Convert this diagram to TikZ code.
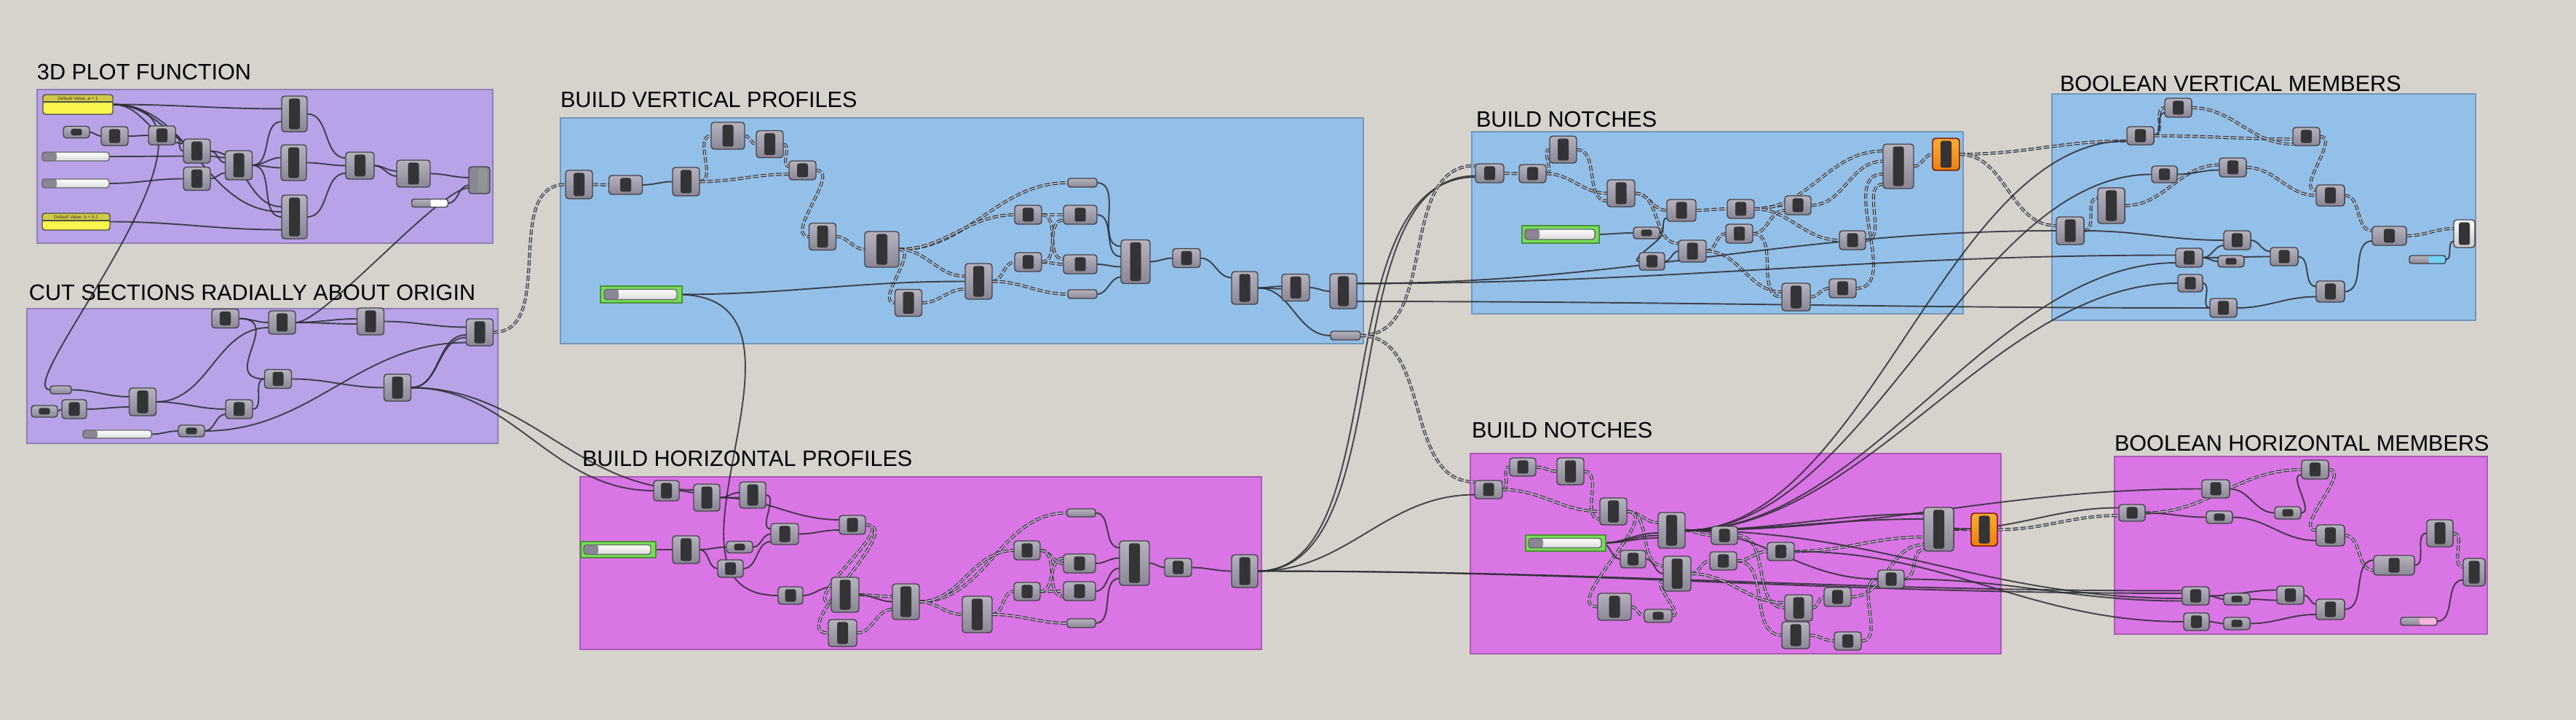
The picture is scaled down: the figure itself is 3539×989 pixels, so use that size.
\documentclass[tikz,border=0pt]{standalone}
\usepackage{fontspec}
\setmainfont{Liberation Sans}
\usepackage{tikz}
\usetikzlibrary{positioning}
\pgfdeclarelayer{groups}
\pgfdeclarelayer{wires}
\pgfsetlayers{groups,wires,main}
\definecolor{ghcanvas}{RGB}{214,210,204}
\definecolor{ghpurple}{RGB}{184,163,232}
\definecolor{ghblue}{RGB}{147,192,233}
\definecolor{ghpink}{RGB}{218,117,230}
\definecolor{ghtop}{RGB}{182,178,190}
\definecolor{ghbot}{RGB}{138,134,148}
\definecolor{ghedge}{RGB}{68,66,72}
\definecolor{ghbar}{RGB}{52,52,54}
\definecolor{ghwire}{RGB}{45,45,50}
\definecolor{ghtree}{RGB}{180,184,194}
\definecolor{ghgreen}{RGB}{118,222,88}
\definecolor{ghyellow}{RGB}{250,246,75}
\definecolor{ghyellowdk}{RGB}{208,202,70}
\definecolor{ghorangetop}{RGB}{252,172,52}
\definecolor{ghorangebot}{RGB}{238,126,16}

\begin{document}
\begin{tikzpicture}[x=0.01cm, y=-0.01cm,
every node/.style={inner sep=0pt, outer sep=0pt},
group/.style={draw=#1!78!black, fill=#1, line width=0.4pt},
title/.style={anchor=base west, font=\fontsize{8.7}{10}\selectfont},
comp/.style={draw=ghedge, line width=0.4pt, rounded corners=1.2pt, top color=ghtop, bottom color=ghbot,
  minimum width=0.37cm, minimum height=0.26cm,
  path picture={\fill[ghbar, rounded corners=0.8pt] ([xshift=-0.075cm, yshift=0.035cm]path picture bounding box.south) rectangle ([xshift=0.075cm, yshift=-0.035cm]path picture bounding box.north);}},
gs/.style={comp, minimum width=0.36cm, minimum height=0.16cm},
gc/.style={comp},
gw/.style={comp, minimum width=0.46cm},
gm/.style={comp, minimum height=0.37cm},
gt/.style={comp, minimum width=0.38cm, minimum height=0.49cm},
gx/.style={comp, minimum width=0.40cm, minimum height=0.60cm},
bakecomp/.style={comp, top color=ghorangetop, bottom color=ghorangebot, draw=black!60!red, minimum height=0.44cm},
preview/.style={draw=ghedge, line width=0.4pt, rounded corners=1.2pt, fill=ghbot, minimum width=0.29cm, minimum height=0.37cm,
  path picture={\fill[black!42] ([xshift=-0.02cm, yshift=0.02cm]path picture bounding box.south) rectangle ([xshift=0.11cm, yshift=-0.02cm]path picture bounding box.north);}},
param/.style={draw=ghedge, line width=0.4pt, rounded corners=1pt, top color=ghtop, bottom color=ghbot, minimum width=0.40cm, minimum height=0.12cm},
slider/.style={draw=black!60, line width=0.4pt, rounded corners=1pt, top color=white, bottom color=black!15, minimum height=0.12cm,
  path picture={\fill[ghbot] (path picture bounding box.south west) rectangle ([xshift=0.2cm]path picture bounding box.north west);}},
sliderbox/.style={draw=ghgreen!65!black, fill=ghgreen, line width=0.5pt, minimum height=0.23cm},
swatch/.style={draw=ghedge, line width=0.4pt, rounded corners=1pt, top color=ghtop, bottom color=ghbot, minimum width=0.50cm, minimum height=0.11cm,
  path picture={\fill[#1] ([xshift=-0.24cm]path picture bounding box.south east) rectangle (path picture bounding box.north east);}},
panel/.style={draw=black!70, line width=0.4pt, rounded corners=1pt, fill=ghyellow,
  path picture={\fill[ghyellowdk] (path picture bounding box.north west) rectangle ([yshift=-0.10cm]path picture bounding box.north east);
  \draw[black!70, line width=0.35pt] ([yshift=-0.10cm]path picture bounding box.north west) -- ([yshift=-0.10cm]path picture bounding box.north east);}},
paneltext/.style={font=\fontsize{1.8}{2}\selectfont, text=black!80},
wire/.style={draw=ghwire, line width=0.55pt, draw opacity=0.85, out=0, in=180},
tree/.style={draw=ghwire, line width=0.32pt, double=ghtree, double distance=0.48pt, dash pattern=on 2.2pt off 0.8pt, out=0, in=180}
]
\useasboundingbox (0,0) rectangle (3539,989);

% Canvas and groups
\begin{pgfonlayer}{groups}
\fill[ghcanvas] (0,0) rectangle (3539,989);
\draw[group=ghpurple] (51,123) rectangle (677,334);
\draw[group=ghpurple] (37,424) rectangle (684,609);
\draw[group=ghblue] (770,162) rectangle (1873,472);
\draw[group=ghpink] (797,655) rectangle (1733,892);
\draw[group=ghblue] (2022,181) rectangle (2697,431);
\draw[group=ghpink] (2020,623) rectangle (2749,898);
\draw[group=ghblue] (2819,129) rectangle (3401,440);
\draw[group=ghpink] (2905,627) rectangle (3417,871);
\end{pgfonlayer}

% Titles
\node[title] (tpf) at (51,110) {3D PLOT FUNCTION};
\node[title] (tcs) at (40,413) {CUT SECTIONS RADIALLY ABOUT ORIGIN};
\node[title] (tvp) at (770,148) {BUILD VERTICAL PROFILES};
\node[title] (thp) at (800,641) {BUILD HORIZONTAL PROFILES};
\node[title] (tvn) at (2028,175) {BUILD NOTCHES};
\node[title] (thn) at (2022,602) {BUILD NOTCHES};
\node[title] (tvb) at (2830,126) {BOOLEAN VERTICAL MEMBERS};
\node[title] (thb) at (2905,620) {BOOLEAN HORIZONTAL MEMBERS};

% 3D plot function
\node[panel, minimum width=0.96cm, minimum height=0.27cm] (pfa) at (107,143.5) {};
\node[paneltext, below=0.7pt of pfa.north] (pfat) {Default Value, a = 1};
\node[panel, minimum width=0.93cm, minimum height=0.23cm] (pfb) at (104.5,304.5) {};
\node[paneltext, below=0.7pt of pfb.north] (pfbt) {Default Value, b = 0.2};
\node[gs] (pf1) at (105,181.5) {};
\node[gc] (pf2) at (157.5,187) {};
\node[gc] (pf3) at (222.5,186) {};
\node[slider, minimum width=0.92cm] (pfs1) at (104,215) {};
\node[slider, minimum width=0.92cm] (pfs2) at (104,252) {};
\node[gm, minimum height=0.33cm] (pf4) at (270.5,207.5) {};
\node[gm, minimum height=0.32cm] (pf5) at (270.5,245.5) {};
\node[gm, minimum height=0.40cm] (pf6) at (328,227) {};
\node[gt, minimum width=0.35cm] (pf7) at (404.5,156.5) {};
\node[gt, minimum width=0.35cm] (pf8) at (403.5,223.5) {};
\node[gx, minimum width=0.35cm] (pf9) at (404.5,298) {};
\node[gm, minimum width=0.39cm] (pf10) at (494.5,227.5) {};
\node[gm, minimum width=0.46cm] (pf11) at (568,238.5) {};
\node[preview] (pf12) at (658.5,247.5) {};
\node[swatch=white] (pfsw) at (590.5,279) {};

% Cut sections radially about origin
\node[gc] (cs1) at (309.5,437.5) {};
\node[gm, minimum height=0.32cm] (cs2) at (387.5,443) {};
\node[gm] (cs3) at (509,441.5) {};
\node[gm] (cs4) at (659,456.5) {};
\node[param, minimum width=0.29cm, minimum height=0.11cm] (cs0) at (83.5,535.5) {};
\node[gs] (cs5) at (61,565) {};
\node[gc, minimum width=0.34cm] (cs6) at (102,562) {};
\node[gm, minimum height=0.38cm] (cs7) at (196,552) {};
\node[gc] (cs8) at (382,520.5) {};
\node[gc] (cs9) at (328.5,562) {};
\node[gm] (cs10) at (546,532.5) {};
\node[slider, minimum width=0.94cm, minimum height=0.11cm] (css) at (161,596.5) {};
\node[gs] (cs11) at (263,592) {};

% Build vertical profiles
\node[gm, minimum height=0.39cm] (vp1) at (795.5,253.5) {};
\node[gw] (vp2) at (859.5,254) {};
\node[gm, minimum height=0.39cm] (vp3) at (942.5,249.5) {};
\node[gm, minimum width=0.46cm] (vp4) at (1000,186.5) {};
\node[gm] (vp5) at (1057.5,198) {};
\node[gc] (vp6) at (1102.5,234) {};
\node[gm] (vp7) at (1130,325) {};
\node[gt, minimum width=0.47cm] (vp8) at (1211.5,342.5) {};
\node[gm] (vp9) at (1248,416) {};
\node[gt, minimum width=0.37cm] (vp10) at (1344.5,386.5) {};
\node[param] (vpa) at (1487,251) {};
\node[gc] (vp11) at (1412.5,295) {};
\node[gw] (vp12) at (1484,295) {};
\node[gc] (vp13) at (1412.5,360) {};
\node[gw] (vp14) at (1484,363) {};
\node[param] (vpb) at (1487,404) {};
\node[gx] (vp15) at (1560,359.5) {};
\node[gc, minimum width=0.38cm] (vp16) at (1630,354.5) {};
\node[gt, minimum width=0.36cm, minimum height=0.45cm] (vp17) at (1710,395.5) {};
\node[gm, minimum width=0.38cm] (vp18) at (1780,395) {};
\node[gt, minimum width=0.37cm, minimum height=0.48cm] (vp19) at (1845.5,400) {};
\node[param, minimum width=0.41cm] (vpc) at (1848.5,461) {};
\node[sliderbox, minimum width=1.12cm] (vps) at (881,404.5) {};
\node[slider, minimum width=1.00cm, minimum height=0.14cm] (vpsl) at (880,404.5) {};

% Build horizontal profiles
\node[gc, minimum width=0.35cm, minimum height=0.28cm] (hp1) at (915.5,674) {};
\node[gm, minimum width=0.36cm] (hp2) at (971,683.5) {};
\node[gm, minimum width=0.36cm, minimum height=0.36cm] (hp3) at (1034,680) {};
\node[gc, minimum width=0.36cm] (hp4) at (1171,721) {};
\node[gc, minimum width=0.38cm, minimum height=0.29cm] (hp5) at (1078,733.5) {};
\node[sliderbox, minimum width=1.03cm, minimum height=0.22cm] (hps) at (849.5,755) {};
\node[slider, minimum width=0.92cm, minimum height=0.13cm] (hpsl) at (848,755) {};
\node[gm, minimum height=0.38cm] (hp6) at (942.5,755) {};
\node[gs] (hp7) at (1016,751.5) {};
\node[gc, minimum width=0.35cm, minimum height=0.24cm] (hp8) at (1003.5,781) {};
\node[gc, minimum width=0.34cm, minimum height=0.24cm] (hp9) at (1086,818) {};
\node[gt, minimum height=0.48cm] (hp10) at (1161,817) {};
\node[gm, minimum width=0.39cm] (hp11) at (1157.5,869.5) {};
\node[gt, minimum width=0.37cm] (hp12) at (1244.5,826.5) {};
\node[gt, minimum width=0.41cm, minimum height=0.50cm] (hp13) at (1342.5,844) {};
\node[param, minimum width=0.39cm, minimum height=0.11cm] (hpa) at (1485.5,704.5) {};
\node[gc, minimum width=0.36cm] (hp14) at (1411,756) {};
\node[gc, minimum width=0.44cm] (hp15) at (1483,774) {};
\node[gc, minimum width=0.36cm, minimum height=0.25cm] (hp16) at (1411,812.5) {};
\node[gc, minimum width=0.44cm] (hp17) at (1483,812) {};
\node[param, minimum width=0.39cm] (hpb) at (1485.5,856) {};
\node[gx, minimum width=0.41cm, minimum height=0.61cm] (hp18) at (1558.5,773.5) {};
\node[gc, minimum height=0.25cm] (hp19) at (1618.5,779.5) {};
\node[gt, minimum width=0.36cm, minimum height=0.45cm] (hp20) at (1710,784.5) {};

% Build notches (vertical)
\node[gc, minimum width=0.39cm] (vn1) at (2046.5,238) {};
\node[gc, minimum height=0.25cm] (vn2) at (2105.5,238.5) {};
\node[gm] (vn3) at (2147.5,205.5) {};
\node[gm, minimum width=0.38cm] (vn4) at (2227,265.5) {};
\node[sliderbox, minimum width=1.06cm, minimum height=0.24cm] (vns) at (2144,322) {};
\node[slider, minimum width=0.96cm, minimum height=0.14cm] (vnsl) at (2143,322) {};
\node[gs] (vn5) at (2262,320) {};
\node[gc, minimum width=0.40cm, minimum height=0.30cm] (vn6) at (2310,289) {};
\node[gc, minimum width=0.35cm, minimum height=0.24cm] (vn7) at (2269.5,359) {};
\node[gc, minimum width=0.38cm, minimum height=0.30cm] (vn8) at (2325,345) {};
\node[gc] (vn9) at (2391.5,287) {};
\node[gc] (vn10) at (2389.5,321) {};
\node[gc, minimum width=0.36cm] (vn11) at (2470,282) {};
\node[gc, minimum width=0.36cm] (vn12) at (2545,330) {};
\node[gm, minimum width=0.39cm, minimum height=0.38cm] (vn13) at (2467.5,408) {};
\node[gc] (vn14) at (2531.5,396) {};
\node[gx, minimum width=0.42cm, minimum height=0.61cm] (vn15) at (2608,228.5) {};
\node[bakecomp] (vn16) at (2673.5,212) {};

% Build notches (horizontal)
\node[gc, minimum width=0.38cm, minimum height=0.25cm] (hn1) at (2045,672.5) {};
\node[gc, minimum width=0.36cm, minimum height=0.25cm] (hn2) at (2092,641.5) {};
\node[gm] (hn3) at (2157.5,647.5) {};
\node[gm] (hn4) at (2216.5,702.5) {};
\node[sliderbox, minimum width=1.10cm, minimum height=0.22cm] (hns) at (2151,746) {};
\node[slider, minimum width=1.00cm, minimum height=0.13cm] (hnsl) at (2150,746) {};
\node[gt, minimum width=0.37cm] (hn5) at (2296.5,728.5) {};
\node[gc, minimum width=0.36cm, minimum height=0.25cm] (hn6) at (2369,735.5) {};
\node[gc, minimum width=0.35cm, minimum height=0.24cm] (hn7) at (2243.5,768) {};
\node[gt, minimum height=0.48cm] (hn8) at (2304,788) {};
\node[gc, minimum height=0.25cm] (hn9) at (2367.5,770.5) {};
\node[gc, minimum height=0.25cm] (hn10) at (2446.5,757.5) {};
\node[gm, minimum width=0.46cm] (hn11) at (2218,833.5) {};
\node[gs, minimum width=0.38cm, minimum height=0.18cm] (hn12) at (2278,846) {};
\node[gm, minimum width=0.38cm, minimum height=0.36cm] (hn13) at (2471,835) {};
\node[gm, minimum width=0.38cm] (hn14) at (2467,872.5) {};
\node[gc] (hn15) at (2524.5,820) {};
\node[gc, minimum height=0.25cm] (hn16) at (2538.5,880.5) {};
\node[gc, minimum width=0.36cm, minimum height=0.25cm] (hn17) at (2598,795.5) {};
\node[gx, minimum width=0.41cm] (hn18) at (2663.5,727) {};
\node[bakecomp, minimum width=0.36cm, minimum height=0.45cm] (hn19) at (2726,727.5) {};

% Boolean vertical members
\node[gc] (vb1) at (2992.5,148) {};
\node[gc, minimum height=0.25cm] (vb2) at (2940.5,186.5) {};
\node[gc, minimum height=0.25cm] (vb3) at (3168.5,187.5) {};
\node[gc, minimum width=0.35cm, minimum height=0.23cm] (vb4) at (2973.5,239.5) {};
\node[gc] (vb5) at (3067.5,230) {};
\node[gt, minimum width=0.37cm] (vb6) at (2900.5,282.5) {};
\node[gm, minimum width=0.38cm, minimum height=0.38cm] (vb7) at (2844,317) {};
\node[gc, minimum width=0.39cm, minimum height=0.29cm] (vb8) at (3201.5,268.5) {};
\node[gc] (vb9) at (3073.5,330) {};
\node[gc] (vb10) at (3007.5,354) {};
\node[gs] (vb11) at (3065,359) {};
\node[gc, minimum width=0.38cm, minimum height=0.25cm] (vb12) at (3138,352.5) {};
\node[gc, minimum width=0.34cm, minimum height=0.24cm] (vb13) at (3009,389) {};
\node[gc] (vb14) at (3054.5,423) {};
\node[gc, minimum width=0.39cm, minimum height=0.29cm] (vb15) at (3201.5,400.5) {};
\node[gw, minimum width=0.47cm] (vb16) at (3282.5,324) {};
\node[comp, minimum width=0.29cm, minimum height=0.38cm, top color=white, bottom color=black!22] (vb17) at (3385.5,321) {};
\node[swatch=cyan!55] (vbsw) at (3335,356.5) {};

% Boolean horizontal members
\node[gc] (hb1) at (3180.5,645) {};
\node[gc, minimum width=0.38cm, minimum height=0.25cm] (hb2) at (3044,671.5) {};
\node[gc, minimum width=0.36cm, minimum height=0.23cm] (hb3) at (2929,704.5) {};
\node[gs, minimum height=0.17cm] (hb4) at (3049,710.5) {};
\node[gs, minimum height=0.17cm] (hb5) at (3143,704.5) {};
\node[gc, minimum width=0.39cm, minimum height=0.29cm] (hb6) at (3201.5,735.5) {};
\node[gm, minimum width=0.36cm] (hb7) at (3352,732.5) {};
\node[gc, minimum width=0.56cm, minimum height=0.27cm] (hb8) at (3289,776.5) {};
\node[comp, minimum width=0.30cm, minimum height=0.38cm] (hb9) at (3399,786) {};
\node[gc, minimum height=0.25cm] (hb10) at (3016.5,818.5) {};
\node[gs] (hb11) at (3073,823) {};
\node[gc, minimum height=0.25cm] (hb12) at (3146.5,817.5) {};
\node[gc, minimum width=0.39cm, minimum height=0.28cm] (hb13) at (3201.5,837) {};
\node[gc, minimum width=0.35cm, minimum height=0.24cm] (hb14) at (3017.5,854) {};
\node[gs, minimum height=0.17cm] (hb15) at (3073,856.5) {};
\node[swatch=magenta!30] (hbsw) at (3323,853.5) {};

% Wires
\begin{pgfonlayer}{wires}
% 3D plot function
\draw[wire] (pfa.east) to ([yshift=2pt]pf7.west);
\draw[wire] (pfa.east) to ([yshift=3pt]pf4.west);
\draw[wire] (pfa.east) to ([yshift=3pt]pf6.west);
\draw[wire] (pfa.east) to ([yshift=2pt]pf9.west);
\draw[wire] (pf1.east) to (pf2.west);
\draw[wire] (pf2.east) to (pf3.west);
\draw[wire] (pf3.east) to (pf4.west);
\draw[wire] (pfs1.east) to ([yshift=-2pt]pf4.west);
\draw[wire] (pfs2.east) to (pf5.west);
\draw[wire] (pf4.east) to ([yshift=1pt]pf6.west);
\draw[wire] (pf5.east) to ([yshift=-3pt]pf6.west);
\draw[wire] (pf6.east) to ([yshift=-3pt]pf7.west);
\draw[wire] (pf6.east) to ([yshift=2pt]pf8.west);
\draw[wire] (pf6.east) to ([yshift=-2pt]pf8.west);
\draw[wire] (pf6.east) to (pf9.west);
\draw[wire] (pf4.east) to ([yshift=4pt]pf9.west);
\draw[wire] (pfb.east) to ([yshift=-5pt]pf9.west);
\draw[wire] (pf7.east) to ([yshift=3pt]pf10.west);
\draw[wire] (pf8.east) to (pf10.west);
\draw[wire] (pf9.east) to ([yshift=-3pt]pf10.west);
\draw[wire] (pf10.east) to ([yshift=1pt]pf11.west);
\draw[wire] (pf10.east) to ([yshift=-1pt]pf11.west);
\draw[wire] (pf11.east) to ([yshift=1pt]pf12.west);
\draw[wire] (pfsw.east) to ([yshift=-2pt]pf12.west);
\draw[wire] (pfa.east) .. controls +(200,0) and +(-60,0) .. (cs0.west);
\draw[wire] (cs2.east) .. controls +(40,0) and +(-40,0) .. ([yshift=-3pt]pf12.west);
% Cut sections
\draw[wire] (cs1.east) to (cs2.west);
\draw[wire] (cs2.east) to ([yshift=1pt]cs3.west);
\draw[wire] (cs2.east) to ([yshift=-1pt]cs3.west);
\draw[wire] (cs3.east) to ([yshift=2pt]cs4.west);
\draw[wire] (cs0.east) to ([yshift=2pt]cs7.west);
\draw[wire] (cs5.east) to (cs6.west);
\draw[wire] (cs6.east) to ([yshift=-2pt]cs7.west);
\draw[wire] (cs7.east) to ([yshift=-2pt]cs2.west);
\draw[wire] (cs7.east) to (cs9.west);
\draw[wire] (cs1.east) to[looseness=1.8] (cs8.west);
\draw[wire] (cs9.east) to (cs8.west);
\draw[wire] (cs8.east) to (cs10.west);
\draw[wire] (cs10.east) to ([yshift=-1pt]cs4.west);
\draw[wire] (cs10.east) to ([yshift=-2pt]cs4.west);
\draw[wire] (css.east) to (cs11.west);
\draw[wire] (cs11.east) to ([yshift=-2pt]cs9.west);
\draw[wire] (cs11.east) to ([yshift=-4pt]cs4.west);
\draw[tree] (cs4.east) to (vp1.west);
\draw[wire] (cs10.east) to (hp1.west);
\draw[wire] (cs10.east) to ([yshift=3pt]hp2.west);
% Build vertical profiles
\draw[tree] (vp1.east) to (vp2.west);
\draw[wire] (vp2.east) to (vp3.west);
\draw[tree] (vp3.east) to (vp4.west);
\draw[tree] (vp3.east) to ([yshift=-1.5pt]vp6.west);
\draw[tree] (vp4.east) to (vp5.west);
\draw[tree] (vp5.east) to ([yshift=1.5pt]vp6.west);
\draw[tree] (vp6.east) to (vp7.west);
\draw[tree] (vp7.east) to (vp8.west);
\draw[tree] (vp8.east) to (vpa.west);
\draw[tree] (vp8.east) to (vp11.west);
\draw[tree] (vp8.east) to ([yshift=2pt]vp10.west);
\draw[tree] (vp8.east) to (vp9.west);
\draw[tree] (vp9.east) to ([yshift=-3pt]vp10.west);
\draw[wire] (vpsl.east) to (vp10.west);
\draw[tree] (vp10.east) to (vp13.west);
\draw[tree] (vp10.east) to (vpb.west);
\draw[tree] (vp11.east) to (vp12.west);
\draw[tree] (vp13.east) to (vp14.west);
\draw[tree] (vp11.east) to ([yshift=2pt]vp14.west);
\draw[tree] (vp13.east) to ([yshift=-2pt]vp12.west);
\draw[wire] (vpa.east) to ([yshift=6pt]vp15.west);
\draw[wire] (vp12.east) to ([yshift=2pt]vp15.west);
\draw[wire] (vp14.east) to ([yshift=-2pt]vp15.west);
\draw[wire] (vpb.east) to ([yshift=-6pt]vp15.west);
\draw[wire] (vp15.east) to (vp16.west);
\draw[wire] (vp16.east) to ([yshift=4pt]vp17.west);
\draw[wire] (vp17.east) to ([yshift=0.5pt]vp18.west);
\draw[wire] (vp17.east) to ([yshift=-0.5pt]vp18.west);
\draw[wire] (vp17.east) to (vpc.west);
\draw[wire] (vp18.east) to (vp19.west);
\draw[wire] (vpsl.east) .. controls +(230,0) and +(-200,0) .. (hp9.west);
% Build horizontal profiles
\draw[wire] (hp1.east) to ([yshift=2pt]hp2.west);
\draw[wire] (hp2.east) to ([yshift=1pt]hp3.west);
\draw[wire] (hp2.east) to ([yshift=-1pt]hp3.west);
\draw[wire] (hp2.east) to ([yshift=2pt]hp4.west);
\draw[wire] (hp3.east) to ([yshift=2pt]hp5.west);
\draw[wire] (hp5.east) to ([yshift=-2pt]hp4.west);
\draw[wire] (hpsl.east) to (hp6.west);
\draw[wire] (hp6.east) to (hp7.west);
\draw[wire] (hp6.east) to (hp8.west);
\draw[wire] (hp7.east) to (hp5.west);
\draw[wire] (hp8.east) to ([yshift=-3pt]hp5.west);
\draw[wire] (hp9.east) to ([yshift=3pt]hp10.west);
\draw[tree] (hp4.east) to ([yshift=-3pt]hp10.west);
\draw[tree] (hp4.east) to (hp11.west);
\draw[tree] (hp10.east) to ([yshift=2pt]hp12.west);
\draw[wire] (hp10.east) to (hp12.west);
\draw[tree] (hp11.east) to ([yshift=-3pt]hp12.west);
\draw[tree] (hp12.east) to (hpa.west);
\draw[tree] (hp12.east) to (hp14.west);
\draw[tree] (hp12.east) to (hp13.west);
\draw[tree] (hp13.east) to (hp16.west);
\draw[tree] (hp13.east) to (hpb.west);
\draw[tree] (hp14.east) to (hp15.west);
\draw[tree] (hp16.east) to (hp17.west);
\draw[tree] (hp14.east) to ([yshift=-2pt]hp17.west);
\draw[tree] (hp16.east) to ([yshift=2pt]hp15.west);
\draw[wire] (hpa.east) to ([yshift=6pt]hp18.west);
\draw[wire] (hp15.east) to ([yshift=2pt]hp18.west);
\draw[wire] (hp17.east) to ([yshift=-2pt]hp18.west);
\draw[wire] (hpb.east) to ([yshift=-6pt]hp18.west);
\draw[wire] (hp18.east) to (hp19.west);
\draw[wire] (hp19.east) to (hp20.west);
\draw[wire] (hp20.east) .. controls +(200,0) and +(-200,0) .. ([yshift=-1pt]vn1.west);
\draw[wire] (hp20.east) .. controls +(190,0) and +(-210,0) .. ([yshift=-1.5pt]vn1.west);
\draw[wire] (hp20.east) to ([yshift=-2pt]hn1.west);
\draw[wire] (hp20.east) to ([yshift=2pt]hb10.west);
\draw[wire] (hp20.east) to ([yshift=1pt]hb10.west);
% Build notches (vertical)
\draw[tree] (vpc.east) to ([yshift=3pt]vn1.west);
\draw[tree] (vpc.east) to ([yshift=3pt]hn1.west);
\draw[tree] (vn1.east) to (vn2.west);
\draw[tree] (vn2.east) to (vn3.west);
\draw[tree] (vn2.east) to (vn4.west);
\draw[tree] (vn3.east) to ([yshift=-3pt]vn4.west);
\draw[tree] (vn4.east) to (vn6.west);
\draw[tree] (vn4.east) to ([yshift=3pt]vn8.west);
\draw[wire] (vnsl.east) to (vn5.west);
\draw[wire] (vn5.east) to ([yshift=-3pt]vn6.west);
\draw[wire] (vn5.east) to (vn7.west);
\draw[wire] (vn7.east) to (vn8.west);
\draw[tree] (vn6.east) to (vn9.west);
\draw[tree] (vn9.east) to (vn11.west);
\draw[tree] (vn9.east) to ([yshift=6pt]vn15.west);
\draw[tree] (vn9.east) to (vn12.west);
\draw[tree] (vn8.east) to (vn10.west);
\draw[tree] (vn10.east) to ([yshift=-2pt]vn11.west);
\draw[tree] (vn8.east) to ([yshift=2pt]vn13.west);
\draw[tree] (vn10.east) to (vn13.west);
\draw[tree] (vn11.east) to ([yshift=2pt]vn15.west);
\draw[tree] (vn13.east) to (vn14.west);
\draw[tree] (vn14.east) to ([yshift=-3pt]vn15.west);
\draw[tree] (vn12.east) to ([yshift=-7pt]vn15.west);
\draw[tree] (vn15.east) to (vn16.west);
\draw[tree] (vn16.east) to ([yshift=-2pt]vb2.west);
\draw[tree] (vn16.east) to ([yshift=2pt]vb7.west);
\draw[wire] ([yshift=3pt]vp19.east) to (vb7.west);
\draw[wire] ([yshift=3pt]vp19.east) to ([yshift=1pt]vb10.west);
\draw[wire] ([yshift=-4pt]vp19.east) to (vb14.west);
% Build notches (horizontal)
\draw[tree] (hn1.east) to (hn2.west);
\draw[tree] (hn2.east) to (hn3.west);
\draw[tree] (hn1.east) to (hn4.west);
\draw[tree] (hn3.east) to ([yshift=-3pt]hn4.west);
\draw[tree] (hn4.east) to ([yshift=3pt]hn5.west);
\draw[tree] (hn4.east) to ([yshift=3pt]hn8.west);
\draw[tree] (hn4.east) to (hn11.west);
\draw[wire] (hnsl.east) to ([yshift=-1pt]hn5.west);
\draw[wire] (hnsl.east) to ([yshift=-2pt]hn5.west);
\draw[wire] (hnsl.east) to ([yshift=-3pt]hn5.west);
\draw[wire] (hnsl.east) to (hn7.west);
\draw[wire] (hn7.east) to (hn8.west);
\draw[tree] (hn5.east) to (hn6.west);
\draw[tree] (hn8.east) to (hn9.west);
\draw[tree] (hn6.east) to (hn13.west);
\draw[tree] (hn9.east) to (hn14.west);
\draw[tree] (hn8.east) to ([yshift=2pt]hn13.west);
\draw[tree] (hn11.east) to (hn12.west);
\draw[tree] (hn12.east) to ([yshift=-3pt]hn8.west);
\draw[tree] (hn9.east) to (hn10.west);
\draw[tree] (hn10.east) to ([yshift=-3pt]hn18.west);
\draw[tree] (hn13.east) to (hn15.west);
\draw[tree] (hn14.east) to (hn16.west);
\draw[tree] (hn15.east) to ([yshift=-6pt]hn18.west);
\draw[tree] (hn16.east) to (hn17.west);
\draw[tree] (hn17.east) to ([yshift=-8pt]hn18.west);
\draw[wire] (hn5.east) to ([yshift=6pt]hn18.west);
\draw[wire] (hn5.east) to ([yshift=4pt]hn18.west);
\draw[wire] (hn5.east) to (hn17.west);
\draw[wire] (hn5.east) to (hb2.west);
\draw[wire] (hn5.east) to ([yshift=-1pt]hb10.west);
\draw[wire] (hn10.east) to (hb14.west);
\draw[wire] (hn17.east) to ([yshift=-2pt]hb10.west);
\draw[tree] (hn18.east) to (hn19.west);
\draw[wire] (hn18.east) to ([yshift=2pt]hb3.west);
\draw[tree] (hn19.east) to ([yshift=-1pt]hb3.west);
\draw[wire] (hn5.east) .. controls +(250,0) and +(-250,0) .. ([yshift=-2pt]vb2.west);
\draw[wire] (hn5.east) .. controls +(250,0) and +(-250,0) .. (vb4.west);
\draw[wire] (hn5.east) .. controls +(250,0) and +(-250,0) .. ([yshift=-2pt]vb10.west);
\draw[wire] (hn5.east) .. controls +(250,0) and +(-250,0) .. (vb13.west);
% Boolean vertical members
\draw[tree] (vb2.east) to (vb1.west);
\draw[wire] (vb2.east) to ([yshift=-2pt]vb1.west);
\draw[tree] (vb2.east) to ([yshift=-1pt]vb3.west);
\draw[tree] (vb1.east) to ([yshift=-3pt]vb3.west);
\draw[tree] (vb6.east) to ([yshift=1pt]vb5.west);
\draw[wire] (vb4.east) to ([yshift=-1pt]vb5.west);
\draw[tree] (vb5.east) to (vb8.west);
\draw[tree] (vb3.east) to ([yshift=2pt]vb8.west);
\draw[tree] (vb7.east) to ([yshift=3pt]vb6.west);
\draw[wire] (vb7.east) to (vb9.west);
\draw[wire] (vb10.east) to ([yshift=-2pt]vb9.west);
\draw[wire] (vb10.east) to (vb11.west);
\draw[wire] (vb10.east) to (vb12.west);
\draw[wire] (vb9.east) to ([yshift=2pt]vb12.west);
\draw[wire] (vb12.east) to ([yshift=2pt]vb15.west);
\draw[wire] (vb13.east) to (vb14.west);
\draw[wire] (vb14.east) to ([yshift=-2pt]vb15.west);
\draw[wire] (vb15.east) to ([yshift=-2pt]vb16.west);
\draw[tree] (vb8.east) to ([yshift=2pt]vb16.west);
\draw[tree] (vb16.east) to ([yshift=2pt]vb17.west);
\draw[wire] (vbsw.east) to ([yshift=-3pt]vb17.west);
% Boolean horizontal members
\draw[tree] (hb3.east) to (hb1.west);
\draw[wire] (hb3.east) to (hb4.west);
\draw[wire] (hb2.east) to (hb5.west);
\draw[wire] (hb5.east) to ([yshift=-2pt]hb1.west);
\draw[tree] (hb1.east) to ([yshift=2pt]hb6.west);
\draw[wire] (hb4.east) to ([yshift=-2pt]hb6.west);
\draw[tree] (hb6.east) to ([yshift=-2pt]hb8.west);
\draw[wire] (hb13.east) to ([yshift=2pt]hb8.west);
\draw[wire] (hb8.east) to (hb7.west);
\draw[tree] (hb7.east) to ([yshift=2pt]hb9.west);
\draw[wire] (hbsw.east) to ([yshift=-3pt]hb9.west);
\draw[wire] (hb10.east) to (hb11.west);
\draw[wire] (hb10.east) to ([yshift=2pt]hb12.west);
\draw[wire] (hb11.east) to ([yshift=-2pt]hb12.west);
\draw[wire] (hb12.east) to ([yshift=2pt]hb13.west);
\draw[wire] (hb14.east) to (hb15.west);
\draw[wire] (hb15.east) to ([yshift=-2pt]hb13.west);
\end{pgfonlayer}
\end{tikzpicture}
\end{document}
